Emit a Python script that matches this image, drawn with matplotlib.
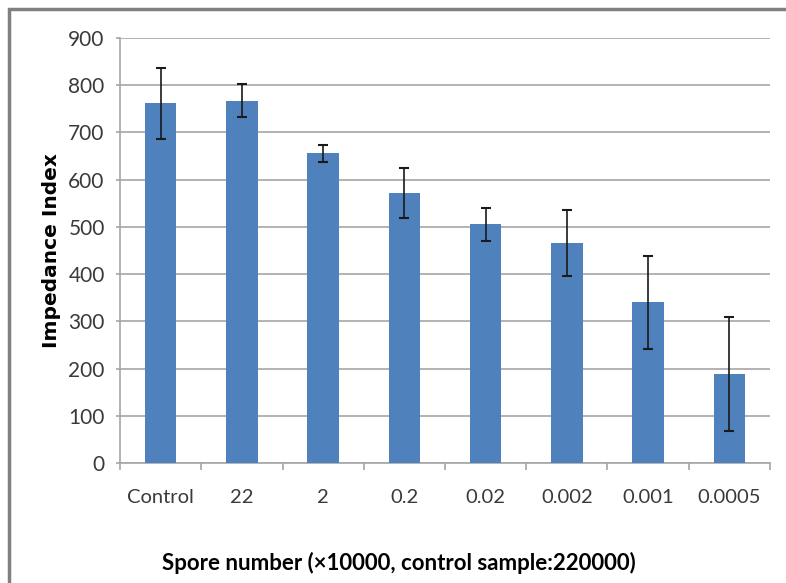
import matplotlib
matplotlib.use("Agg")
import matplotlib.pyplot as plt
from matplotlib.patches import Rectangle

categories = ["Control", "22", "2", "0.2", "0.02", "0.002", "0.001", "0.0005"]
impedance = [762, 767, 656, 571, 506, 466, 340, 189]
err = [75, 35, 18, 53, 35, 70, 99, 121]

plt.rcParams['font.family'] = ['Lato', 'DejaVu Sans']

fig = plt.figure(figsize=(7.86, 5.83), dpi=100)
ax = fig.add_axes([0.1527, 0.2058, 0.8269, 0.729])

x = range(len(categories))
ax.bar(x, impedance, width=0.39, color='#4f81bd', zorder=3,
       yerr=err, error_kw=dict(ecolor='#1a1a1a', elinewidth=1.2, capsize=3.5, capthick=1.5, zorder=4))

ax.set_xlim(-0.5, len(categories) - 0.5)
ax.set_ylim(0, 900)
ax.set_yticks(range(0, 901, 100))
ax.yaxis.grid(True, color='#a6a6a6', linewidth=1.2, zorder=0)
ax.set_xticks(list(x))
ax.set_xticklabels(categories, fontsize=14.5, color='#3a3a3a')
ax.tick_params(axis='x', length=0, pad=19)
ax.set_xticks([i + 0.5 for i in range(-1, len(categories))], minor=True)
ax.tick_params(axis='x', which='minor', length=5, color='#a6a6a6', width=1.2)
ax.tick_params(axis='y', labelsize=15, labelcolor='#3a3a3a', length=3, pad=8,
               color='#a6a6a6', width=1.2)

for s in ['top', 'right']:
    ax.spines[s].set_visible(False)
for s in ['left', 'bottom']:
    ax.spines[s].set_color('#a6a6a6')
    ax.spines[s].set_linewidth(1.2)

ax.set_ylabel('Impedance Index', fontsize=14.5, fontweight='bold',
              family=['DejaVu Sans'], va='center')
ax.yaxis.set_label_coords(-0.106, 0.5)
fig.text(0.508, 0.035, 'Spore number (\u00d710000, control sample:220000)',
         fontsize=16, fontweight='bold', ha='center', va='center')

# outer frame of the original figure
fig.patches.append(Rectangle((0.011, -0.1), 1.2, 1.085, transform=fig.transFigure,
                             fill=False, edgecolor='#808080', linewidth=2.5))

fig.savefig('out.png', dpi=100)
